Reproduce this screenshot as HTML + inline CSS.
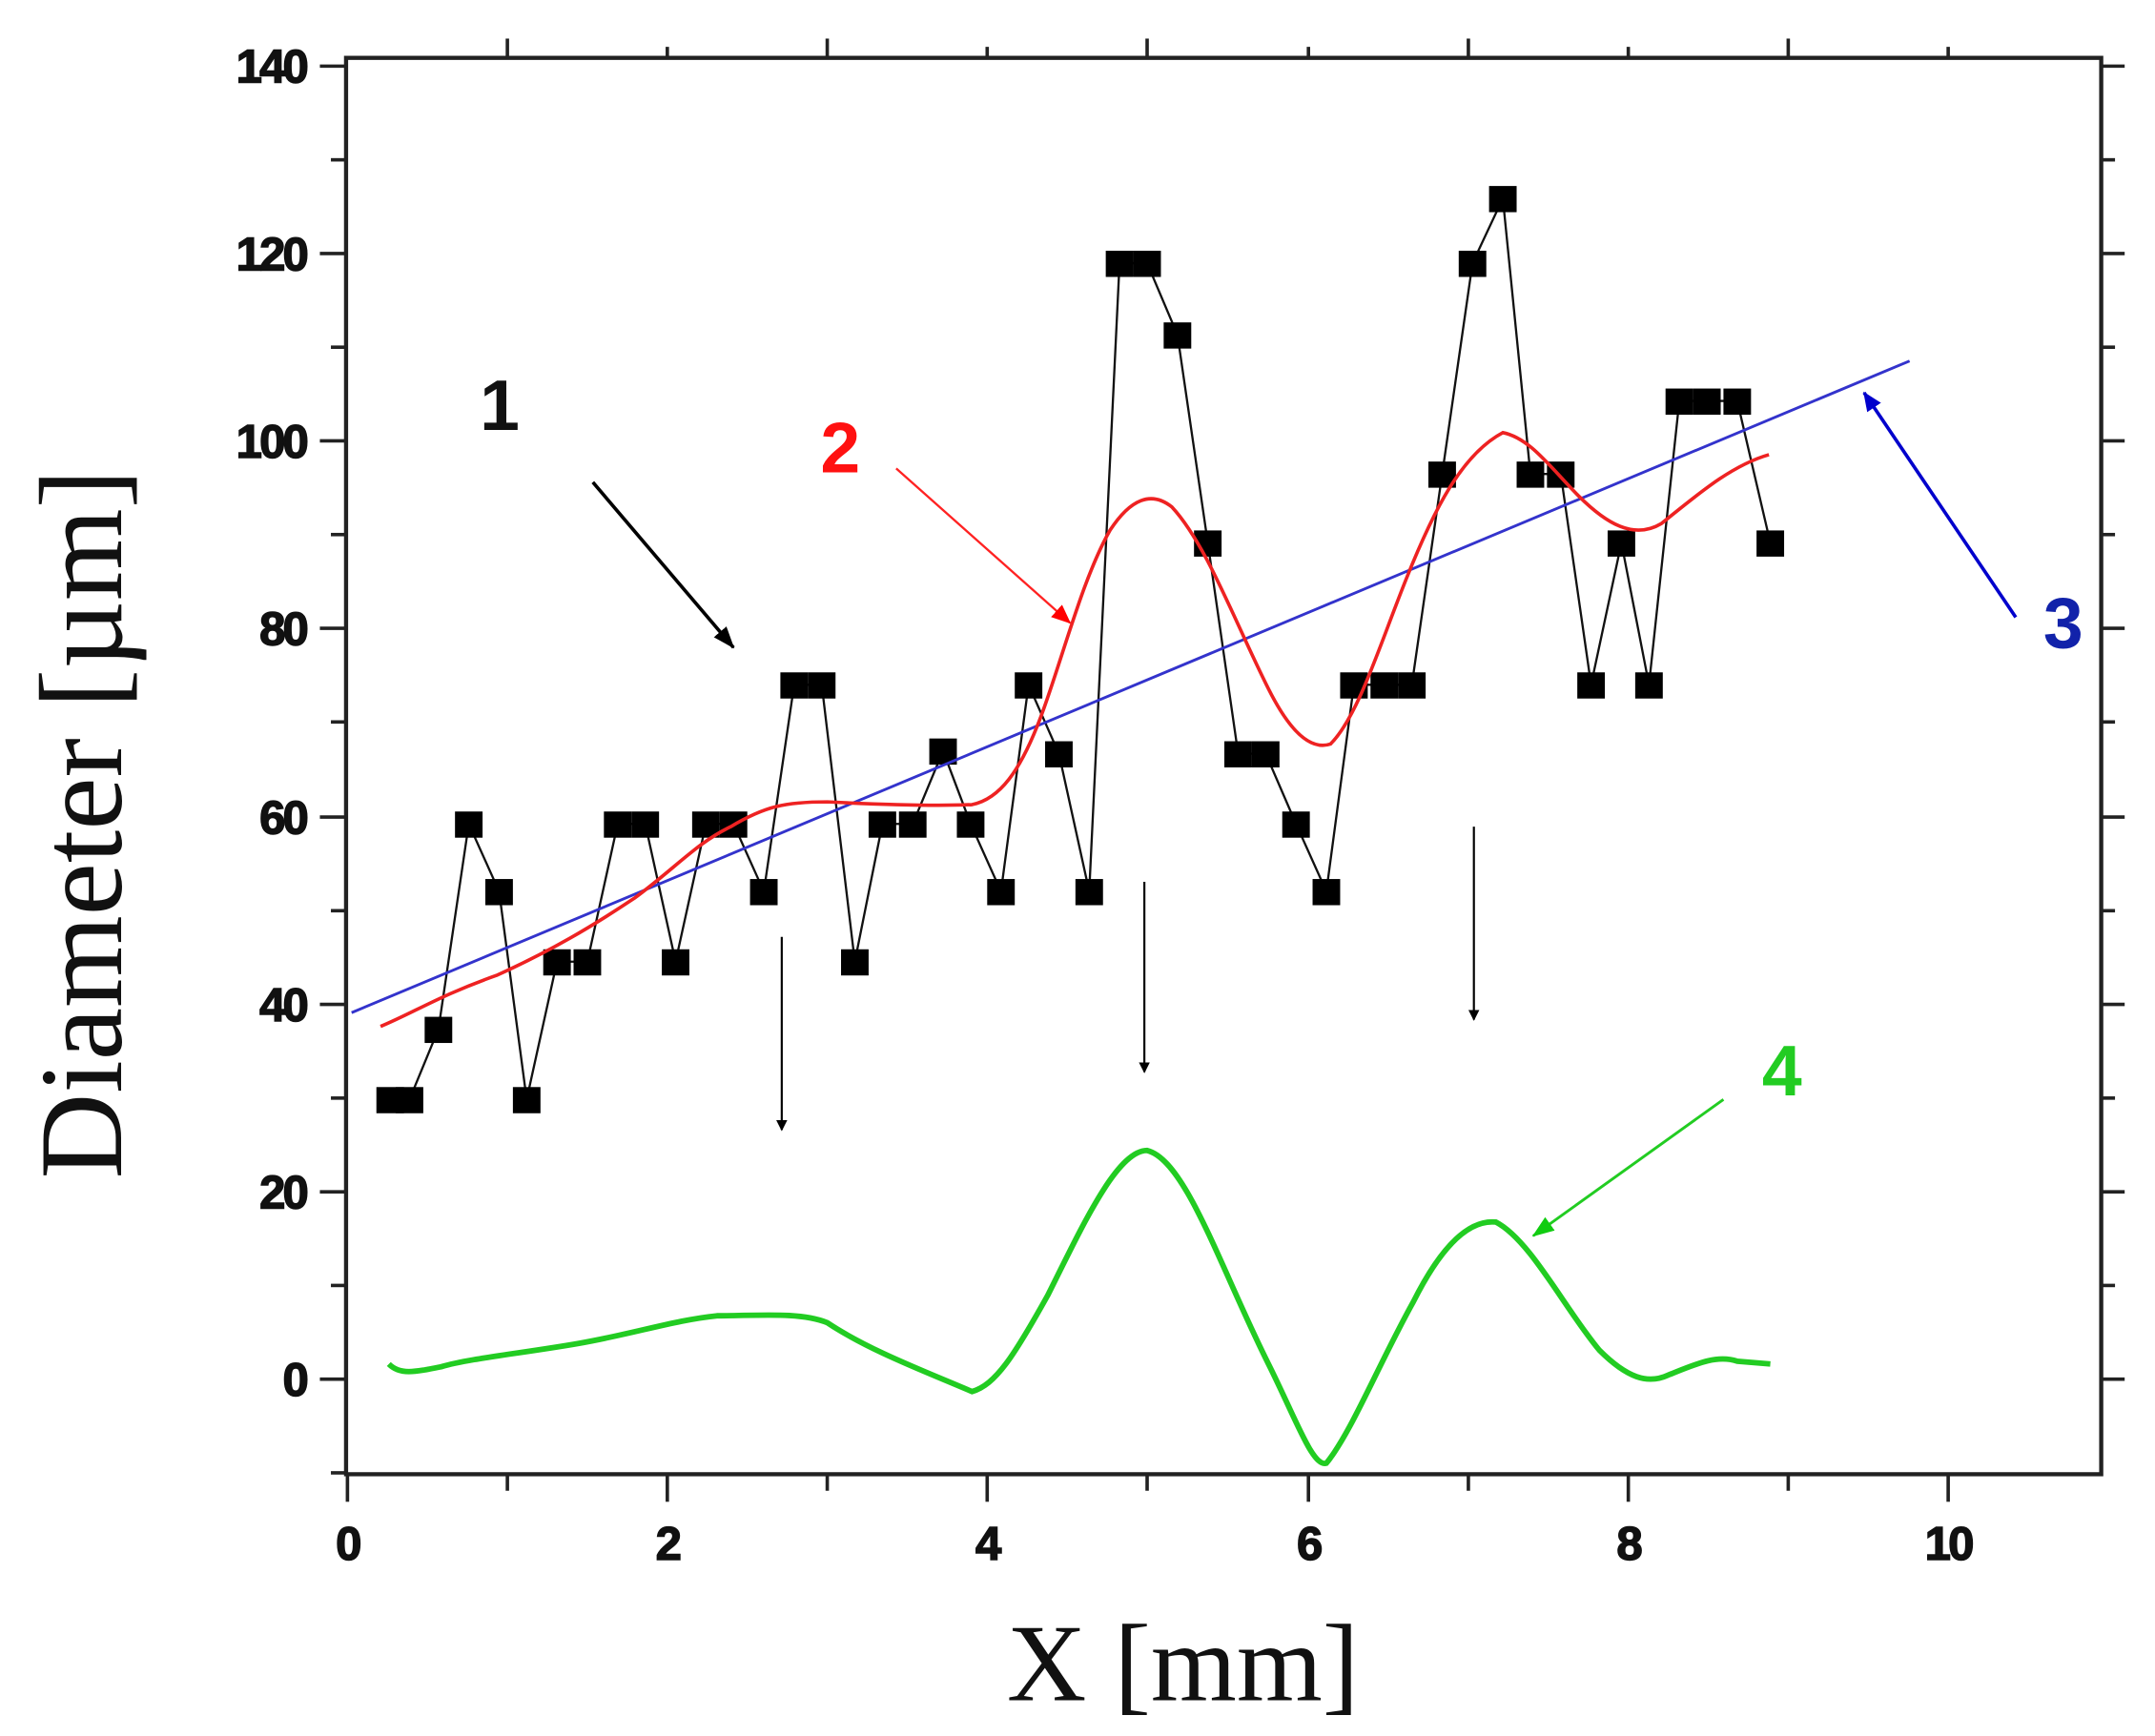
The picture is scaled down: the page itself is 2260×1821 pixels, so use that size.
<!DOCTYPE html>
<html><head><meta charset="utf-8"><style>html,body{margin:0;padding:0;background:#fff}svg{display:block}</style></head>
<body>
<svg width="2260" height="1821" viewBox="0 0 1563 1260" preserveAspectRatio="none" xmlns="http://www.w3.org/2000/svg">
<defs>
<marker id="ab" markerWidth="8" markerHeight="8" refX="7" refY="4" orient="auto" markerUnits="userSpaceOnUse"><path d="M0,0 L8,4 L0,8 z" fill="#000"/></marker>
<marker id="ar" markerWidth="14" markerHeight="12" refX="13" refY="6" orient="auto" markerUnits="userSpaceOnUse"><path d="M0,0 L14,6 L0,12 z" fill="#f00"/></marker>
<marker id="au" markerWidth="14" markerHeight="12" refX="13" refY="6" orient="auto" markerUnits="userSpaceOnUse"><path d="M0,0 L14,6 L0,12 z" fill="#00c"/></marker>
<marker id="ag" markerWidth="16" markerHeight="12" refX="15" refY="6" orient="auto" markerUnits="userSpaceOnUse"><path d="M0,0 L16,6 L0,12 z" fill="#1c1"/></marker>
<marker id="ak" markerWidth="16" markerHeight="12" refX="15" refY="6" orient="auto" markerUnits="userSpaceOnUse"><path d="M0,0 L16,6 L0,12 z" fill="#000"/></marker>
</defs>
<g stroke="#222" stroke-width="3" fill="none">
<rect x="251" y="42" width="1273" height="1028"/>
</g>
<g stroke="#222" stroke-width="2.5">
<line x1="232" y1="48" x2="251" y2="48"/><line x1="232" y1="184" x2="251" y2="184"/><line x1="232" y1="320" x2="251" y2="320"/><line x1="232" y1="456" x2="251" y2="456"/><line x1="232" y1="593" x2="251" y2="593"/><line x1="232" y1="729" x2="251" y2="729"/><line x1="232" y1="865" x2="251" y2="865"/><line x1="232" y1="1001" x2="251" y2="1001"/>
<line x1="240" y1="116" x2="251" y2="116"/><line x1="240" y1="252" x2="251" y2="252"/><line x1="240" y1="388" x2="251" y2="388"/><line x1="240" y1="524" x2="251" y2="524"/><line x1="240" y1="661" x2="251" y2="661"/><line x1="240" y1="797" x2="251" y2="797"/><line x1="240" y1="933" x2="251" y2="933"/><line x1="240" y1="1069" x2="251" y2="1069"/>
<line x1="1524" y1="48" x2="1541" y2="48"/><line x1="1524" y1="184" x2="1541" y2="184"/><line x1="1524" y1="320" x2="1541" y2="320"/><line x1="1524" y1="456" x2="1541" y2="456"/><line x1="1524" y1="593" x2="1541" y2="593"/><line x1="1524" y1="729" x2="1541" y2="729"/><line x1="1524" y1="865" x2="1541" y2="865"/><line x1="1524" y1="1001" x2="1541" y2="1001"/>
<line x1="1524" y1="116" x2="1534" y2="116"/><line x1="1524" y1="252" x2="1534" y2="252"/><line x1="1524" y1="388" x2="1534" y2="388"/><line x1="1524" y1="524" x2="1534" y2="524"/><line x1="1524" y1="661" x2="1534" y2="661"/><line x1="1524" y1="797" x2="1534" y2="797"/><line x1="1524" y1="933" x2="1534" y2="933"/>
<line x1="252" y1="1070" x2="252" y2="1090"/><line x1="484" y1="1070" x2="484" y2="1090"/><line x1="716" y1="1070" x2="716" y2="1090"/><line x1="949" y1="1070" x2="949" y2="1090"/><line x1="1181" y1="1070" x2="1181" y2="1090"/><line x1="1413" y1="1070" x2="1413" y2="1090"/>
<line x1="368" y1="1070" x2="368" y2="1082"/><line x1="600" y1="1070" x2="600" y2="1082"/><line x1="832" y1="1070" x2="832" y2="1082"/><line x1="1065" y1="1070" x2="1065" y2="1082"/><line x1="1297" y1="1070" x2="1297" y2="1082"/>
<line x1="368" y1="42" x2="368" y2="28"/><line x1="600" y1="42" x2="600" y2="28"/><line x1="832" y1="42" x2="832" y2="28"/><line x1="1065" y1="42" x2="1065" y2="28"/><line x1="1297" y1="42" x2="1297" y2="28"/>
<line x1="484" y1="42" x2="484" y2="34"/><line x1="716" y1="42" x2="716" y2="34"/><line x1="949" y1="42" x2="949" y2="34"/><line x1="1181" y1="42" x2="1181" y2="34"/><line x1="1413" y1="42" x2="1413" y2="34"/>
</g>
<g font-family="Liberation Sans, sans-serif" font-weight="bold" font-size="34" letter-spacing="-2" fill="#111" text-anchor="end" stroke="#111" stroke-width="1">
<text x="222" y="60">140</text><text x="222" y="196">120</text><text x="222" y="332">100</text><text x="222" y="468">80</text><text x="222" y="605">60</text><text x="222" y="741">40</text><text x="222" y="877">20</text><text x="222" y="1013">0</text>
</g>
<g font-family="Liberation Sans, sans-serif" font-weight="bold" font-size="34" letter-spacing="-2" fill="#111" text-anchor="middle" stroke="#111" stroke-width="1">
<text x="252" y="1132">0</text><text x="484" y="1132">2</text><text x="716" y="1132">4</text><text x="949" y="1132">6</text><text x="1181" y="1132">8</text><text x="1413" y="1132">10</text>
</g>
<text x="858" y="1234" font-family="Liberation Serif, serif" font-size="80" text-anchor="middle" fill="#111">X [mm]</text>
<text transform="translate(88,598) rotate(-90)" font-family="Liberation Serif, serif" font-size="86" text-anchor="middle" fill="#111">Diameter [µm]</text>

<polyline fill="none" stroke="#111" stroke-width="1.6" points="283,798 297,798 318,747 340,598 362,647 382,798 404,698 426,698 448,598 468,598 490,698 512,598 532,598 554,647 576,497 596,497 620,698 640,598 662,598 684,545 704,598 726,647 746,497 768,547 790,647 812,191 832,191 854,243 876,394 898,547 918,547 940,598 962,647 982,497 1004,497 1024,497 1046,344 1068,191 1090,144 1110,344 1132,344 1154,497 1176,394 1196,497 1218,291 1238,291 1260,291 1284,394"/>
<g fill="#000">
<rect x="273" y="789" width="20" height="19"/><rect x="287" y="789" width="20" height="19"/><rect x="308" y="738" width="20" height="19"/><rect x="330" y="589" width="20" height="19"/><rect x="352" y="638" width="20" height="19"/><rect x="372" y="789" width="20" height="19"/><rect x="394" y="689" width="20" height="19"/><rect x="416" y="689" width="20" height="19"/><rect x="438" y="589" width="20" height="19"/><rect x="458" y="589" width="20" height="19"/><rect x="480" y="689" width="20" height="19"/><rect x="502" y="589" width="20" height="19"/><rect x="522" y="589" width="20" height="19"/><rect x="544" y="638" width="20" height="19"/><rect x="566" y="488" width="20" height="19"/><rect x="586" y="488" width="20" height="19"/><rect x="610" y="689" width="20" height="19"/><rect x="630" y="589" width="20" height="19"/><rect x="652" y="589" width="20" height="19"/><rect x="674" y="536" width="20" height="19"/><rect x="694" y="589" width="20" height="19"/><rect x="716" y="638" width="20" height="19"/><rect x="736" y="488" width="20" height="19"/><rect x="758" y="538" width="20" height="19"/><rect x="780" y="638" width="20" height="19"/><rect x="802" y="182" width="20" height="19"/><rect x="822" y="182" width="20" height="19"/><rect x="844" y="234" width="20" height="19"/><rect x="866" y="385" width="20" height="19"/><rect x="888" y="538" width="20" height="19"/><rect x="908" y="538" width="20" height="19"/><rect x="930" y="589" width="20" height="19"/><rect x="952" y="638" width="20" height="19"/><rect x="972" y="488" width="20" height="19"/><rect x="994" y="488" width="20" height="19"/><rect x="1014" y="488" width="20" height="19"/><rect x="1036" y="335" width="20" height="19"/><rect x="1058" y="182" width="20" height="19"/><rect x="1080" y="135" width="20" height="19"/><rect x="1100" y="335" width="20" height="19"/><rect x="1122" y="335" width="20" height="19"/><rect x="1144" y="488" width="20" height="19"/><rect x="1166" y="385" width="20" height="19"/><rect x="1186" y="488" width="20" height="19"/><rect x="1208" y="282" width="20" height="19"/><rect x="1228" y="282" width="20" height="19"/><rect x="1250" y="282" width="20" height="19"/><rect x="1274" y="385" width="20" height="19"/>
</g>
<line x1="255" y1="735" x2="1385" y2="262" stroke="#33c" stroke-width="2"/>
<path fill="none" stroke="#e22" stroke-width="2.5" d="M276,745 C300,735 320,722 360,708 C400,690 430,672 460,652 C490,630 505,612 530,600 C555,585 570,582 600,582 C640,584 680,585 705,584 C725,580 740,560 755,520 C770,480 785,420 805,385 C820,362 835,356 850,368 C875,395 895,450 920,500 C935,530 950,545 965,540 C985,520 1000,470 1020,420 C1040,370 1060,330 1090,314 C1110,318 1125,340 1145,360 C1165,380 1185,392 1205,380 C1230,360 1255,338 1283,330"/>
<path fill="none" stroke="#2c2" stroke-width="4" d="M282,990 C290,998 300,996 320,992 C340,986 380,982 420,975 C460,968 490,958 520,955 C550,955 580,952 600,960 C630,980 670,995 705,1010 C722,1005 735,985 760,940 C785,890 810,835 832,835 C860,842 885,920 920,990 C940,1030 952,1065 962,1062 C980,1040 1000,990 1025,945 C1045,905 1065,885 1085,887 C1110,900 1135,950 1160,980 C1180,1000 1195,1005 1210,998 C1230,990 1245,983 1260,988 L1284,990"/>
<g font-family="Liberation Sans, sans-serif" font-weight="bold" font-size="52">
<text x="348" y="312" fill="#111">1</text>
<text x="595" y="343" fill="#f11">2</text>
<text x="1482" y="470" fill="#12a">3</text>
<text x="1278" y="795" fill="#2c2">4</text>
</g>
<line x1="430" y1="350" x2="532" y2="470" stroke="#000" stroke-width="2.5" marker-end="url(#ak)"/>
<line x1="650" y1="340" x2="776" y2="452" stroke="#f22" stroke-width="1.6" marker-end="url(#ar)"/>
<line x1="1462" y1="448" x2="1352" y2="285" stroke="#00c" stroke-width="2.5" marker-end="url(#au)"/>
<line x1="1250" y1="798" x2="1112" y2="897" stroke="#2c2" stroke-width="2" marker-end="url(#ag)"/>
<line x1="567" y1="680" x2="567" y2="820" stroke="#000" stroke-width="1.5" marker-end="url(#ab)"/>
<line x1="830" y1="640" x2="830" y2="778" stroke="#000" stroke-width="1.5" marker-end="url(#ab)"/>
<line x1="1069" y1="600" x2="1069" y2="740" stroke="#000" stroke-width="1.5" marker-end="url(#ab)"/>
</svg>
</body></html>
